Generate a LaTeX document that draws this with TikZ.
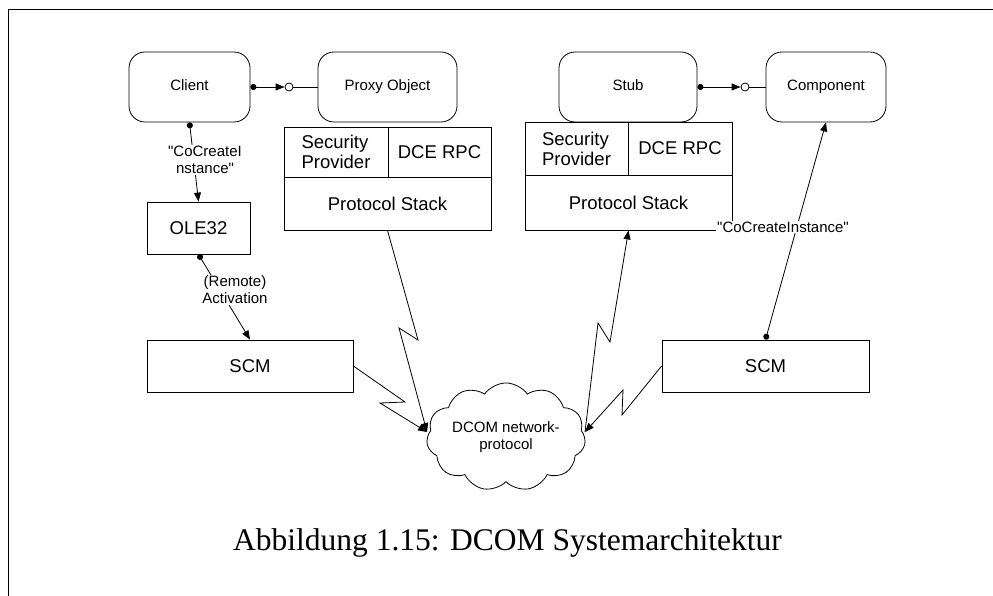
\documentclass[tikz,border=0pt]{standalone}
\usepackage{fontspec}
\setmainfont{Liberation Serif}
\newfontfamily\arial{Liberation Sans}
\usetikzlibrary{arrows.meta,shapes.symbols}
\begin{document}
\begin{tikzpicture}[x=1pt,y=-1pt,
  line width=0.8pt,
  obj/.style={draw, rounded corners=16pt, minimum width=#1, minimum height=70pt, font=\arial\fontsize{15}{17}\selectfont, inner sep=0pt, text height=11pt, text depth=3pt},
  bx/.style={draw, inner sep=0pt, font=\arial\fontsize{18.5}{20}\selectfont, align=left},
  lbl/.style={fill=white, inner sep=1pt, align=center, font=\arial\fontsize{15}{17}\selectfont},
  lol/.style={draw, circle, minimum size=8pt, inner sep=0pt, fill=white},
  tip/.style={-{Triangle[length=9pt,width=7pt]}},
  dottip/.style={{Circle[length=6pt]}-{Triangle[length=9pt,width=7pt]}},
]
\useasboundingbox (0,0) rectangle (993,596);
% frame
\coordinate (f1) at (993,9);
\coordinate (f2) at (8,9);
\coordinate (f3) at (8,596);
\draw (f1) -- (f2) -- (f3);

% objects
\node[obj=121pt] (client) at (189.5,87) {Client};
\node[obj=139pt] (proxy) at (387.5,87) {Proxy Object};
\node[obj=138pt] (stub) at (628,87) {Stub};
\node[obj=120pt] (comp) at (826,87) {Component};

% left stack
\node[bx, minimum width=104pt, minimum height=50pt] (sp1) at (336,152) {Security\\Provider};
\node[bx, minimum width=103pt, minimum height=50pt] (dce1) at (439.5,152) {DCE RPC};
\node[bx, minimum width=207pt, minimum height=53pt] (ps1) at (387.5,203.5) {Protocol Stack};

% right stack
\node[bx, minimum width=103pt, minimum height=53pt] (sp2) at (576.5,148.5) {Security\\Provider};
\node[bx, minimum width=104pt, minimum height=53pt] (dce2) at (680,148.5) {DCE RPC};
\node[bx, minimum width=207pt, minimum height=55pt] (ps2) at (628.5,202.5) {Protocol Stack};

\node[bx, minimum width=103pt, minimum height=52pt] (ole) at (198.5,228) {OLE32};
\node[bx, minimum width=206pt, minimum height=52pt] (scm1) at (250,366) {SCM};
\node[bx, minimum width=207pt, minimum height=52pt] (scm2) at (765.5,366) {SCM};

% cloud
\node[cloud, draw, cloud puffs=11, cloud puff arc=110, aspect=1.7,
      minimum width=150pt, minimum height=88pt, inner sep=0pt,
      align=center, font=\arial\fontsize{15}{17}\selectfont] (net) at (506,437) {DCOM network-\\protocol};
\coordinate (cl1) at (427,432);
\coordinate (cr1) at (585,432);

% lollipop connectors
\node[lol] (lol1) at (289,87) {};
\node[lol] (lol2) at (745,87) {};
\draw[dottip] (client.east) -- (lol1.west);
\draw (lol1.east) -- (proxy.west);
\draw[dottip] (stub.east) -- (lol2.west);
\draw (lol2.east) -- (comp.west);

% activation path
\draw[dottip] (client.south) -- (ole.north);
\draw[dottip] (ole.south) -- (scm1.north);

% network links
\draw[tip] (scm1.east) -- (405,402) -- (380,403) -- (cl1);
\draw[tip] (ps1.south) -- (418,340) -- (399,328) -- (cl1);
\draw[tip] (cr1) -- (598,323) -- (610,342) -- (ps2.south);
\draw[tip] (scm2.west) -- (622,415) -- (623,390) -- (cr1);
\draw[dottip] (scm2.north) -- (comp.south);

% labels
\node[lbl] (l1) at (205,160) {"CoCreateI\\nstance"};
\node[lbl] (l2) at (235,290) {(Remote)\\Activation};
\node[lbl] (l3) at (783,227) {"CoCreateInstance"};

% caption
\node[font=\fontsize{31.5}{38}\selectfont] (cap) at (507.5,543) {Abbildung 1.15: DCOM Systemarchitektur};
\end{tikzpicture}
\end{document}
